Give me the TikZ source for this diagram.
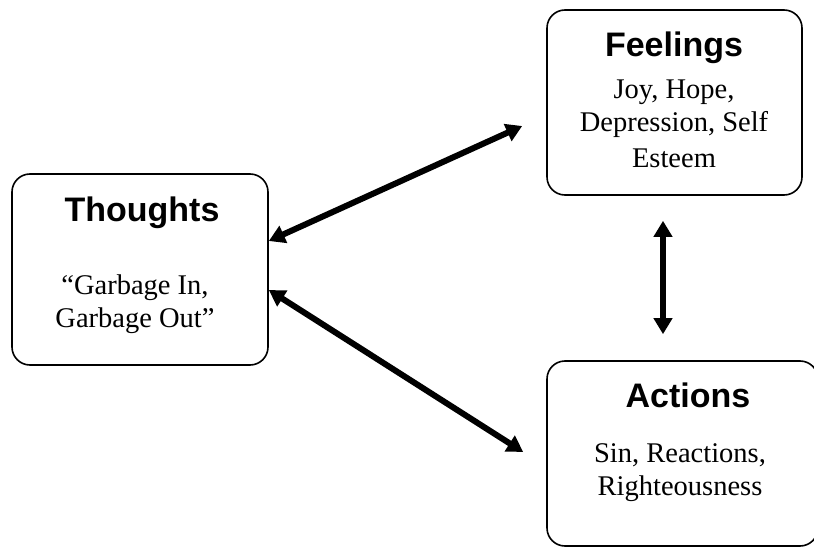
\documentclass[tikz,border=0pt]{standalone}
\usepackage{fontspec}
\setmainfont{Liberation Serif}
\setsansfont{Liberation Sans}
\usepackage{tikz}
\usetikzlibrary{arrows.meta, positioning}

\begin{document}
\begin{tikzpicture}[
  x=1pt, y=-1pt,
  box/.style={draw, line width=1.6pt, rounded corners=18pt, inner sep=0pt},
  ttl/.style={font=\sffamily\bfseries\fontsize{34}{40}\selectfont, anchor=base, inner sep=0pt},
  txt/.style={font=\fontsize{28.5}{33}\selectfont, align=center, anchor=base, inner sep=0pt},
  link/.style={line width=6pt, {Triangle[length=16pt,width=18pt]}-{Triangle[length=16pt,width=18pt]}}
]
\useasboundingbox (0,0) rectangle (814,548);
% boxes
\node[box, minimum width=256pt, minimum height=191pt] (thoughts) at (140,269.5) {};
\node[box, minimum width=255pt, minimum height=185pt] (feelings) at (674.5,102.5) {};
\node[box, minimum width=271pt, minimum height=185pt] (actions) at (682.5,453.5) {};
% texts (base = last line)
\node[ttl] (thoughtsT) at (142,222) {Thoughts};
\node[txt] (thoughtsB) at (135,327) {“Garbage In,\\Garbage Out”};
\node[ttl] (feelingsT) at (674,57) {Feelings};
\node[txt] (feelingsB) at (674,168) {Joy, Hope,\\Depression, Self\\[3pt]Esteem};
\node[ttl] (actionsT) at (688,407) {Actions};
\node[txt] (actionsB) at (680,495) {Sin, Reactions,\\Righteousness};
% arrows
\draw[link] ([yshift=28.5pt]thoughts.east) -- ([xshift=-24pt,yshift=-23.5pt]feelings.west);
\draw[link] ([yshift=-20.5pt]thoughts.east) -- ([xshift=-23pt,yshift=1.5pt]actions.west);
\draw[link] ([xshift=-11.5pt,yshift=-25pt]feelings.south) -- ([xshift=-19.5pt,yshift=26pt]actions.north);
\end{tikzpicture}
\end{document}
